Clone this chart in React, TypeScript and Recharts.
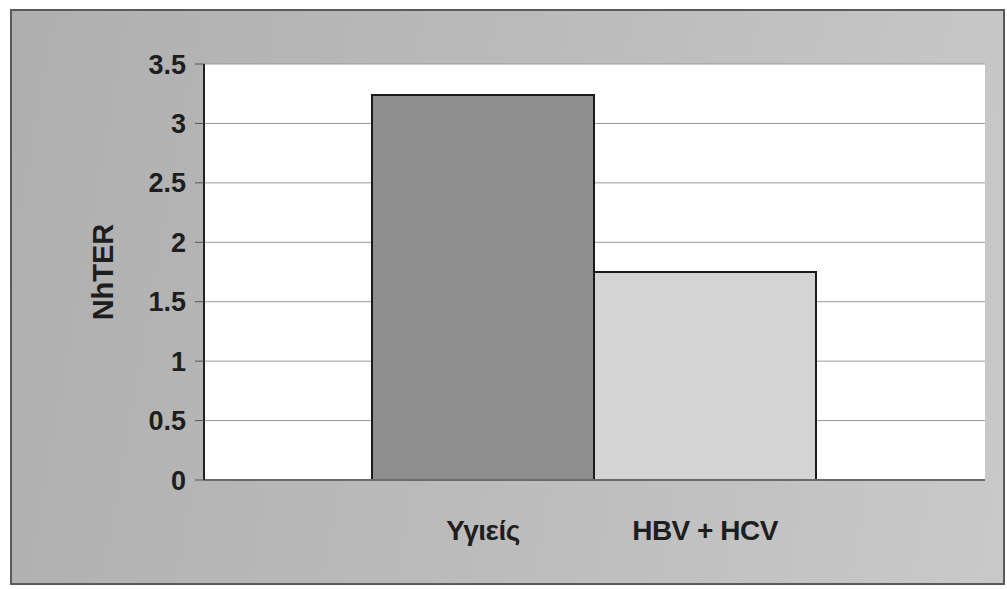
import { BarChart, Bar, XAxis, YAxis, CartesianGrid, Cell, Label } from 'recharts'

const categories = ['Υγιείς', 'HBV + HCV']
const nhterValues = [3.24, 1.75]
const yTicks = [0, 0.5, 1, 1.5, 2, 2.5, 3, 3.5]
const barColors = ['#8e8e8e', '#d4d4d4']

const data = categories.map((name, i) => ({ name, value: nhterValues[i] }))

const FONT = '"Liberation Sans", Arial, sans-serif'

const App = () => {
  return (
    <div
      style={{
        position: 'absolute',
        left: 10,
        top: 9,
        width: 995,
        height: 576,
        boxSizing: 'border-box',
        border: '2px solid #5a5a5a',
        background: 'linear-gradient(100deg, #afafaf 0%, #bbbbbb 50%, #c9c9c9 100%)',
      }}
    >
      <BarChart
        width={991}
        height={572}
        data={data}
        margin={{ top: 53, right: 18, left: 58, bottom: 0 }}
        barCategoryGap={0}
      >
        <CartesianGrid vertical={false} stroke="#9a9a9a" fill="#ffffff" />
        <XAxis
          dataKey="name"
          height={103}
          padding={{ left: 168, right: 169 }}
          tickLine={false}
          tickSize={0}
          tickMargin={40}
          axisLine={{ stroke: '#6a6a6a', strokeWidth: 2 }}
          tick={{ fontSize: 28, fontWeight: 700, fill: '#1e1e1e', fontFamily: FONT, letterSpacing: -0.5 }}
        />
        <YAxis
          width={134}
          domain={[0, 3.5]}
          ticks={yTicks}
          interval={0}
          tickSize={9}
          tickMargin={9}
          axisLine={{ stroke: '#222', strokeWidth: 2 }}
          tickLine={{ stroke: '#555' }}
          tick={{ fontSize: 27, fontWeight: 700, fill: '#1e1e1e', fontFamily: FONT }}
        >
          <Label
            value="NhTER"
            angle={-90}
            position="insideLeft"
            offset={33}
            style={{ textAnchor: 'middle', fontSize: 29, fontWeight: 700, fill: '#1e1e1e', fontFamily: FONT }}
          />
        </YAxis>
        <YAxis
          yAxisId="frame"
          orientation="right"
          width={0}
          tick={false}
          tickLine={false}
          axisLine={{ stroke: '#8a8a8a' }}
        />
        <Bar dataKey="value" stroke="#1a1a1a" strokeWidth={2} isAnimationActive={false}>
          {data.map((d, i) => (
            <Cell key={d.name} fill={barColors[i]} />
          ))}
        </Bar>
      </BarChart>
    </div>
  )
}

export default App
